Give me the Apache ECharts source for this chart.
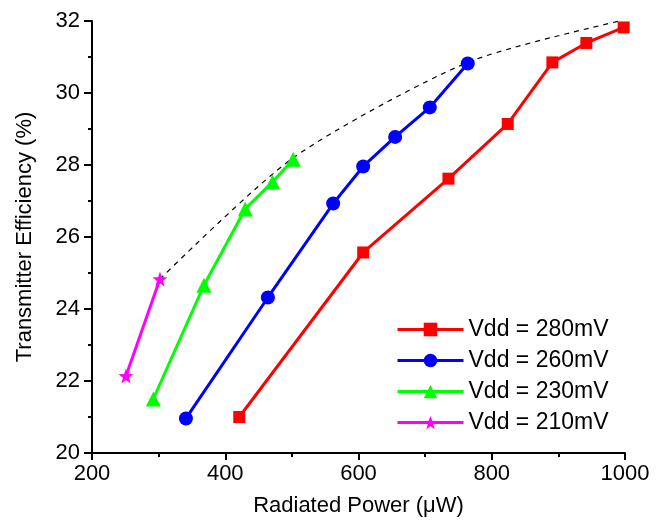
<!DOCTYPE html>
<html lang="en">
<head>
<meta charset="utf-8">
<title>Transmitter Efficiency vs Radiated Power</title>
<script src="https://cdn.jsdelivr.net/npm/echarts@6/dist/echarts.min.js"></script>
<style>
  html, body { margin: 0; padding: 0; background: #fff; }
  #main { width: 663px; height: 523px; }
</style>
</head>
<body>
<div id="main"></div>
<script type="text/javascript">
// values: [radiated power uW, efficiency %]
var vdd280 = [[421, 21.0], [607, 25.57], [735, 27.62], [824, 29.14], [891, 30.85], [942, 31.39], [998, 31.82]];
var vdd260 = [[341, 20.96], [464, 24.32], [562, 26.93], [607, 27.96], [655, 28.78], [707, 29.6], [764, 30.82]];
var vdd230 = [[292, 21.5], [368, 24.66], [430, 26.78], [471, 27.53], [502, 28.16]];
var vdd210 = [[251, 22.14], [302, 24.83]];
// dashed envelope through the top points
var envelope = [[302, 24.83], [502, 28.2], [764, 30.85], [992, 32.0]];

var seriesNames = ['Vdd = 280mV', 'Vdd = 260mV', 'Vdd = 230mV', 'Vdd = 210mV'];
var seriesColors = ['#ff0000', '#0000ff', '#00ff00', '#ff00ff'];
var seriesSymbols = ['rect', 'circle', 'triangle', 'path://M0,-10L2.35,-3.24L9.51,-3.09L3.8,1.24L5.88,8.09L0,4L-5.88,8.09L-3.8,1.24L-9.51,-3.09L-2.35,-3.24Z'];
var seriesSizes = [12, 14, 15, 15];
var seriesData = [vdd280, vdd260, vdd230, vdd210];

var font = 'Liberation Sans, Arial, sans-serif';

var chart = echarts.init(document.getElementById('main'));

var series = [];
for (var i = 0; i < seriesData.length; i++) {
    series.push({
        name: seriesNames[i],
        type: 'line',
        data: seriesData[i],
        symbol: seriesSymbols[i],
        symbolSize: seriesSizes[i],
        color: seriesColors[i],
        lineStyle: { width: 3, color: seriesColors[i] },
        itemStyle: { color: seriesColors[i] },
        z: 3
    });
}
series.push({
    name: 'envelope',
    type: 'line',
    data: envelope,
    smooth: 0.25,
    symbol: 'none',
    lineStyle: { width: 1.2, color: '#000', type: [5, 5] },
    z: 2
});

var option = {
    animation: false,
    grid: { left: 92, right: 38, top: 21, bottom: 70, containLabel: false },
    legend: {
        data: seriesNames,
        orient: 'vertical',
        left: 396,
        top: 318,
        padding: 0,
        itemWidth: 66,
        itemHeight: 17,
        itemGap: 8,
        lineStyle: { width: 3 },
        textStyle: { fontFamily: font, fontSize: 23, color: '#000', lineHeight: 17 }
    },
    xAxis: {
        type: 'value',
        min: 200,
        max: 1000,
        interval: 200,
        name: 'Radiated Power (\u03bcW)',
        nameLocation: 'middle',
        nameGap: 42,
        nameTextStyle: { fontFamily: font, fontSize: 22, color: '#000' },
        axisLine: { show: true, onZero: false, lineStyle: { color: '#000', width: 2 } },
        axisTick: { show: true, inside: false, length: 7, lineStyle: { color: '#000', width: 2 } },
        minorTick: { show: true, splitNumber: 2, length: 4, lineStyle: { color: '#000', width: 2 } },
        axisLabel: {
            fontFamily: font, fontSize: 22, color: '#000', margin: 10,
            formatter: function (v) { return String(v); }
        },
        splitLine: { show: false }
    },
    yAxis: {
        type: 'value',
        min: 20,
        max: 32,
        interval: 2,
        name: 'Transmitter Efficiency (%)',
        nameLocation: 'middle',
        nameGap: 56,
        nameTextStyle: { fontFamily: font, fontSize: 22, color: '#000' },
        axisLine: { show: true, onZero: false, lineStyle: { color: '#000', width: 2 } },
        axisTick: { show: true, inside: false, length: 8, lineStyle: { color: '#000', width: 2 } },
        minorTick: { show: true, splitNumber: 2, length: 4, lineStyle: { color: '#000', width: 2 } },
        axisLabel: { fontFamily: font, fontSize: 22, color: '#000', margin: 12 },
        splitLine: { show: false }
    },
    series: series
};

chart.setOption(option);
</script>
</body>
</html>
